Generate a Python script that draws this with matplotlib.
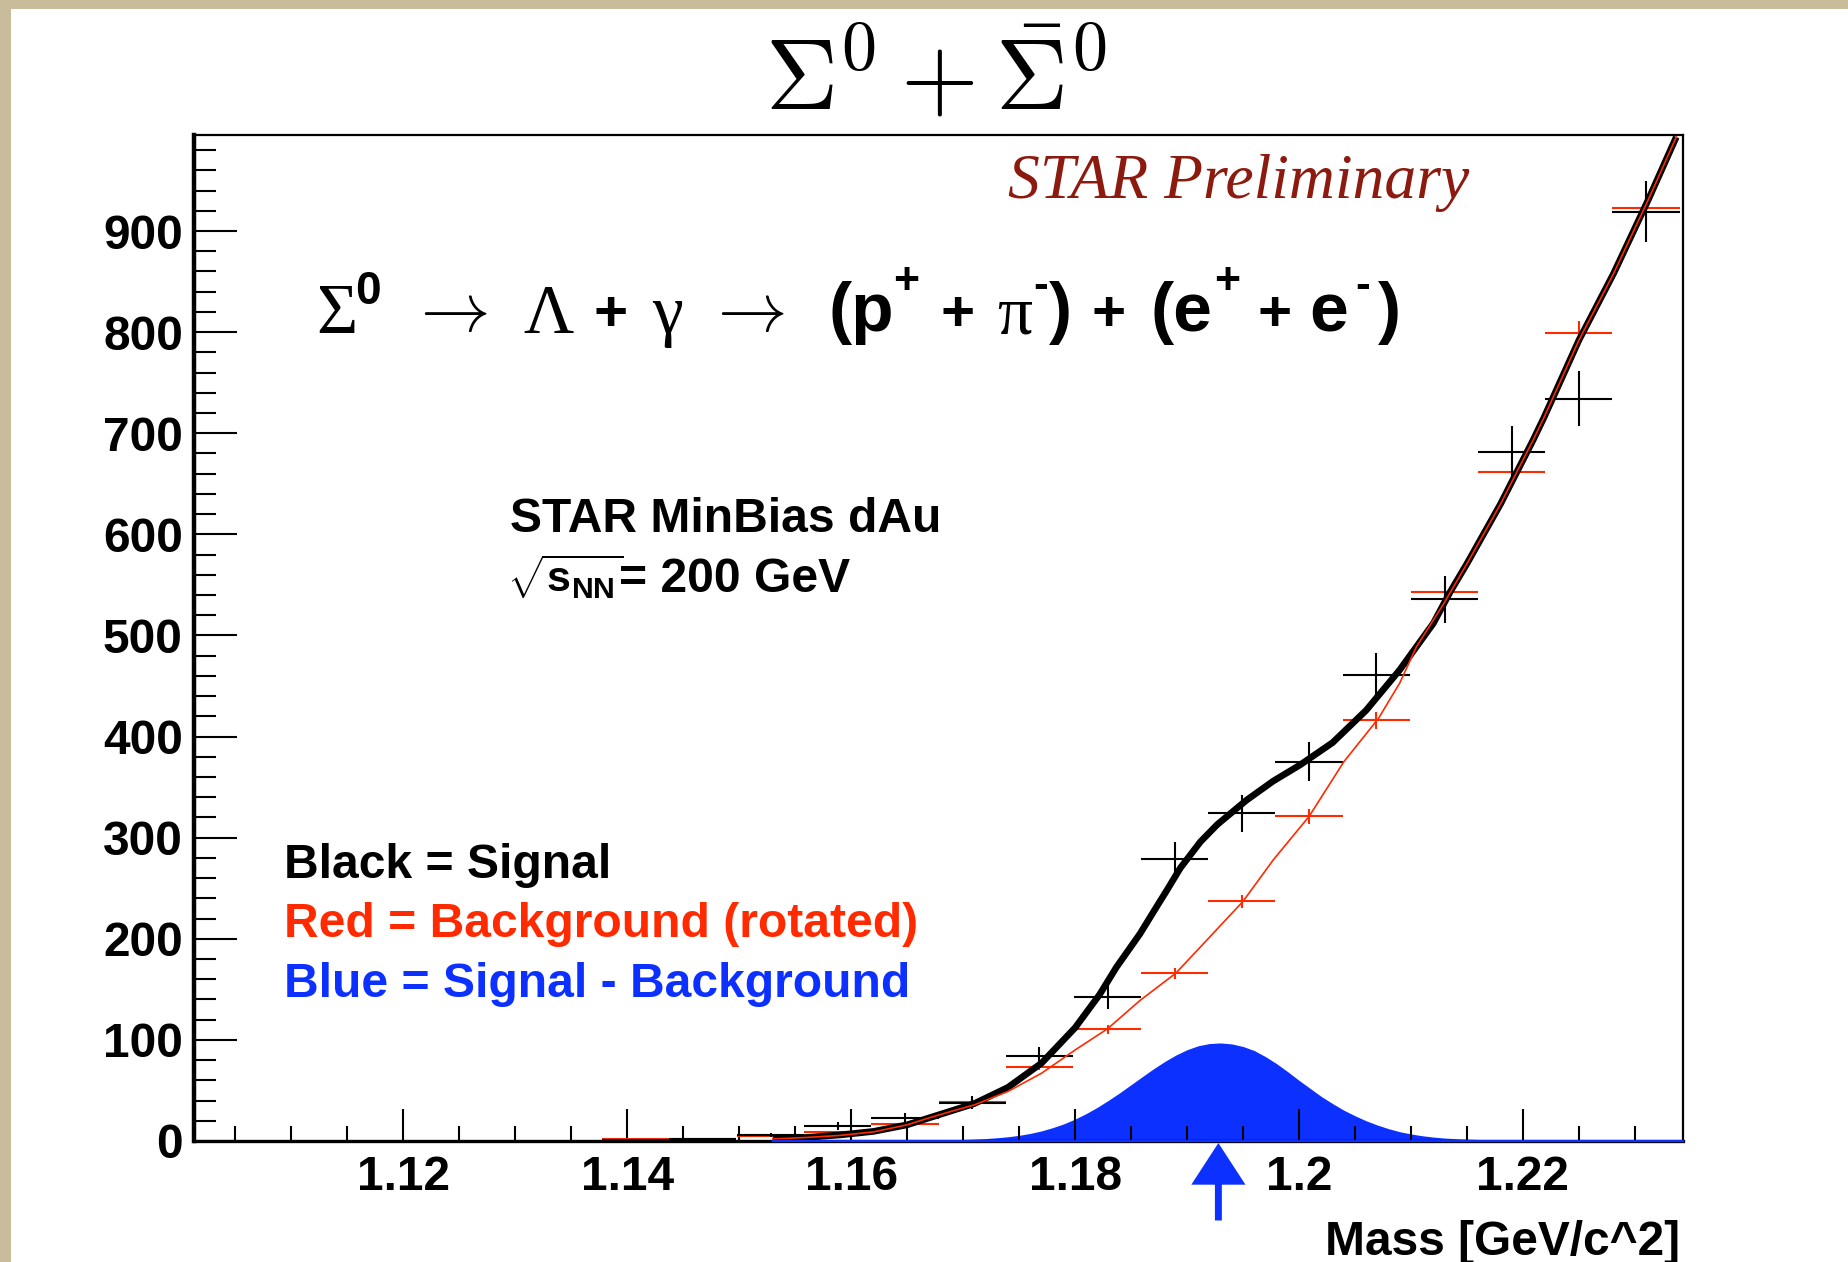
import matplotlib
matplotlib.use("Agg")
import matplotlib.pyplot as plt
from matplotlib.patches import Rectangle
from matplotlib.ticker import MultipleLocator, FixedLocator, FixedFormatter
import numpy as np

# ---------------- data ----------------
bin_centers = [1.1407, 1.1467, 1.1528, 1.1588, 1.1648, 1.1708, 1.1768, 1.1829,
               1.1889, 1.1949, 1.2009, 1.2069, 1.2130, 1.2190, 1.2250, 1.2310]
bin_half_width = 0.0030
signal_counts = [1, 2, 6, 15, 23, 38, 84, 142, 279, 324, 375, 461, 536, 681, 734, 919]
signal_err = [1.0, 1.4, 2.4, 3.9, 4.8, 6.2, 9.2, 11.9, 16.7, 18.0, 19.4, 21.5, 23.2, 26.1, 27.1, 30.3]
background_counts = [2, 2, 5, 9, 17, 39, 73.5, 110.5, 166, 237, 321, 416, 543, 662, 799, 923]
background_err = [0.6, 0.6, 0.9, 1.3, 1.7, 2.6, 3.6, 4.4, 5.4, 6.5, 7.5, 8.6, 9.8, 10.8, 11.9, 12.8]

sig_fit_mass = [1.1530, 1.1560, 1.1590, 1.1620, 1.1650, 1.1670, 1.1690, 1.1710, 1.1740,
                1.1770, 1.1800, 1.1822, 1.1837, 1.1858, 1.1873, 1.1882, 1.1894, 1.1912,
                1.1927, 1.1953, 1.1977, 1.2001, 1.2030, 1.2060, 1.2090, 1.2120, 1.2135,
                1.2150, 1.2180, 1.2209, 1.2219, 1.2250, 1.2281, 1.2312, 1.2337]
sig_fit_counts = [2, 3.5, 6, 9.5, 16, 23, 30, 37, 53,
                  77, 112, 145, 172, 205, 232, 248, 270, 296,
                  313, 337, 356, 372, 394, 426, 466, 512, 543,
                  571, 630, 693, 716, 792, 858, 931, 993]

bkg_fit_mass = [1.1530, 1.1560, 1.1590, 1.1620, 1.1650, 1.1670, 1.1690, 1.1710, 1.1740,
                1.1770, 1.1800, 1.1829, 1.1858, 1.1890, 1.1912, 1.1950, 1.1977, 1.2009,
                1.2040, 1.2071, 1.2090, 1.2105, 1.2129, 1.2150, 1.2180, 1.2209, 1.2219,
                1.2250, 1.2281, 1.2312, 1.2337]
bkg_fit_counts = [2, 3.5, 5.5, 9, 16, 23, 29.5, 35.7, 49,
                  67, 90, 111, 139, 166, 192, 237, 278, 321,
                  375, 418, 453, 489, 531, 571, 630, 693, 716,
                  792, 858, 931, 993]

diff_mass = [1.1530, 1.1640, 1.165, 1.166, 1.167, 1.168, 1.169, 1.170, 1.171, 1.172,
             1.173, 1.174, 1.175, 1.176, 1.177, 1.178, 1.179, 1.180, 1.181, 1.182,
             1.183, 1.184, 1.185, 1.186, 1.187, 1.188, 1.189, 1.190, 1.191, 1.192,
             1.193, 1.194, 1.195, 1.196, 1.197, 1.198, 1.199, 1.200, 1.201, 1.202,
             1.203, 1.204, 1.205, 1.206, 1.207, 1.208, 1.209, 1.210, 1.211, 1.212,
             1.213, 1.214, 1.215, 1.216, 1.217, 1.218, 1.219, 1.220, 1.2205, 1.2343]
diff_counts = [0, 0, 0.5, 0.6, 0.8, 1.0, 1.2, 1.5, 1.9, 2.4,
               3.2, 4.2, 5.6, 7.5, 10.0, 13.2, 17.0, 21.7, 27.2, 33.4,
               40.4, 47.8, 55.7, 63.6, 71.4, 78.6, 85.0, 90.3, 94.2, 96.4,
               97.0, 96.0, 93.5, 89.5, 83.5, 76.5, 68.5, 60.0, 52.0, 44.0,
               37.0, 30.5, 25.0, 20.0, 15.8, 12.2, 9.2, 7.0, 5.2, 3.9,
               2.9, 2.3, 1.8, 1.5, 1.3, 1.1, 1.0, 0.3, 0, 0]

peak_mass = 1.1928

x_ticks = [1.12, 1.14, 1.16, 1.18, 1.20, 1.22]
x_tick_labels = ["1.12", "1.14", "1.16", "1.18", "1.2", "1.22"]
y_ticks = [0, 100, 200, 300, 400, 500, 600, 700, 800, 900]
y_tick_labels = [str(v) for v in y_ticks]

# ---------------- styling ----------------
plt.rcParams["font.family"] = ["Liberation Sans", "DejaVu Sans"]
plt.rcParams["font.weight"] = "bold"
plt.rcParams["mathtext.bf"] = "Liberation Sans:bold"
plt.rcParams["mathtext.rm"] = "Liberation Sans:bold"
plt.rcParams["mathtext.it"] = "Liberation Sans:bold"

W, H = 1848, 1262
BEIGE = "#c8bc9a"
RED = "#ff2a00"
BLUE = "#0c30ff"
DARKRED = "#8c1a0e"

fig = plt.figure(figsize=(W / 100, H / 100), dpi=100)
fig.patch.set_facecolor(BEIGE)
fig.add_artist(Rectangle((11 / W, 0), 1 - 11 / W, 1 - 9 / H, transform=fig.transFigure,
                         facecolor="white", edgecolor="none", zorder=-10))

def fx(px):
    return px / W

def fy(py):
    return 1 - py / H

ax = fig.add_axes([fx(194), fy(1141), (1683 - 194) / W, (1141 - 135) / H])
ax.set_xlim(1.1013, 1.2343)
ax.set_ylim(0, 995)
ax.patch.set_alpha(0)

# blue signal - background
ax.fill_between(diff_mass, 0, diff_counts, color=BLUE, lw=0, zorder=1)
ax.plot([diff_mass[0], diff_mass[-1]], [0, 0], color=BLUE, lw=1.6, zorder=6, clip_on=False)

# background (red) points
ax.errorbar(bin_centers, background_counts, xerr=bin_half_width, yerr=background_err,
            fmt="none", ecolor=RED, elinewidth=1.5, capsize=0, zorder=3)
# signal (black) points
ax.errorbar(bin_centers, signal_counts, xerr=bin_half_width, yerr=signal_err,
            fmt="none", ecolor="black", elinewidth=1.5, capsize=0, zorder=3.5)

# fits
ax.plot(sig_fit_mass, sig_fit_counts, color="black", lw=4.8, zorder=4,
        solid_capstyle="butt", solid_joinstyle="round")
ax.plot(bkg_fit_mass, bkg_fit_counts, color=RED, lw=1.2, zorder=5)

# axes / ticks
ax.xaxis.set_major_locator(FixedLocator(x_ticks))
ax.xaxis.set_major_formatter(FixedFormatter(x_tick_labels))
ax.xaxis.set_minor_locator(MultipleLocator(0.005))
ax.yaxis.set_major_locator(FixedLocator(y_ticks))
ax.yaxis.set_major_formatter(FixedFormatter(y_tick_labels))
ax.yaxis.set_minor_locator(MultipleLocator(20))

ax.tick_params(axis="y", which="major", direction="in", length=31, width=1.5, pad=8,
               labelsize=34.5, left=True, right=False)
ax.tick_params(axis="y", which="minor", direction="in", length=16, width=1.5,
               left=True, right=False)
ax.tick_params(axis="x", which="major", direction="in", length=23, width=1.5, pad=10,
               labelsize=34.5, bottom=True, top=False)
ax.tick_params(axis="x", which="minor", direction="in", length=11, width=1.5,
               bottom=True, top=False)
for lab in ax.get_xticklabels() + ax.get_yticklabels():
    lab.set_fontweight("bold")

ax.spines["left"].set_linewidth(3.2)
ax.spines["bottom"].set_linewidth(2.4)
ax.spines["top"].set_linewidth(1.6)
ax.spines["right"].set_linewidth(1.6)
for s in ax.spines.values():
    s.set_zorder(5.5)

# arrow under the peak
ax.annotate("", xy=(peak_mass, -0.002), xycoords=("data", "axes fraction"),
            xytext=(peak_mass, -0.079), textcoords=("data", "axes fraction"),
            arrowprops=dict(width=5, headwidth=39, headlength=30, color=BLUE, lw=0),
            annotation_clip=False)

# x label
fig.text(fx(1680), fy(1255), "Mass [GeV/c^2]", ha="right", va="baseline",
         fontsize=34.5, fontweight="bold")

# title
fig.text(fx(936), fy(108), r"$\Sigma^{0} + \bar{\Sigma}^{0}$", ha="center", va="baseline",
         fontsize=72, math_fontfamily="cm", color="black", fontweight="normal")

# STAR Preliminary
fig.text(fx(1008), fy(198), "STAR Preliminary", ha="left", va="baseline", fontsize=45.8,
         family=["Liberation Serif", "DejaVu Serif"], style="italic", fontweight="normal",
         color=DARKRED)

# decay chain
SERIF = ["Liberation Serif", "DejaVu Serif"]
SANS = ["Liberation Sans", "DejaVu Sans"]
ARROW = r"$\rightarrow$"
pieces = [
    ("\u03a3", 316, SERIF, "normal", 51, 333),
    ("0", 355, SANS, "bold", 33, 304),
    (ARROW, 408, "cm", "normal", 50, 331),
    ("\u039b", 523, SERIF, "normal", 50, 333),
    ("+", 594, SANS, "bold", 42, 331),
    ("\u03b3", 652, SERIF, "normal", 50, 333),
    (ARROW, 705, "cm", "normal", 50, 331),
    ("(p", 829, SANS, "bold", 50, 331),
    ("+", 893, SANS, "bold", 32, 294),
    ("+", 940, SANS, "bold", 42, 331),
    ("\u03c0", 997, SERIF, "normal", 50, 333),
    ("-", 1033, SANS, "bold", 32, 298),
    (")", 1049, SANS, "bold", 50, 331),
    ("+", 1092, SANS, "bold", 42, 331),
    ("(e", 1151, SANS, "bold", 50, 331),
    ("+", 1214, SANS, "bold", 32, 294),
    ("+", 1257, SANS, "bold", 42, 331),
    ("e", 1309, SANS, "bold", 50, 331),
    ("-", 1355, SANS, "bold", 32, 298),
    (")", 1378, SANS, "bold", 50, 331),
]
for txt, px, fam, wt, sz, py in pieces:
    if fam == "cm":
        fig.text(fx(px), fy(py), txt, ha="left", va="baseline", math_fontfamily="cm",
                 fontsize=sz, color="black", fontweight="normal")
    else:
        fig.text(fx(px), fy(py), txt, ha="left", va="baseline", family=fam,
                 fontweight=wt, fontsize=sz, color="black")

# collision info
fig.text(fx(510), fy(532), "STAR MinBias dAu", ha="left", va="baseline", fontsize=34.6,
         fontweight="bold")
fig.text(fx(507), fy(592), r"$\sqrt{\mathbf{s}_{\mathbf{NN}}}$", ha="left", va="baseline",
         fontsize=31, math_fontfamily="custom")
fig.text(fx(619), fy(592), "= 200 GeV", ha="left", va="baseline", fontsize=34.6,
         fontweight="bold")

# colour legend
fig.text(fx(284), fy(878), "Black = Signal", ha="left", va="baseline", fontsize=34.6,
         fontweight="bold", color="black")
fig.text(fx(284), fy(937), "Red = Background (rotated)", ha="left", va="baseline",
         fontsize=34.6, fontweight="bold", color=RED)
fig.text(fx(284), fy(997), "Blue = Signal - Background", ha="left", va="baseline",
         fontsize=34.6, fontweight="bold", color=BLUE)

fig.savefig("out.png", dpi=100, facecolor=fig.get_facecolor())
